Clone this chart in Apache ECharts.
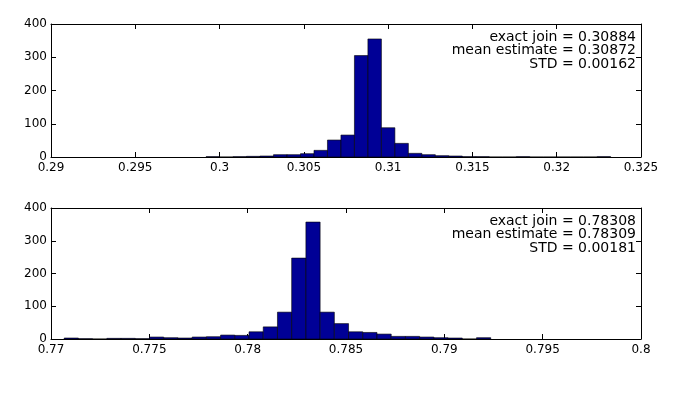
<!DOCTYPE html>
<html lang="en">
<head>
  <meta charset="UTF-8" />
  <title>Join estimate histograms</title>
  <script src="https://cdn.jsdelivr.net/npm/echarts@6/dist/echarts.min.js"></script>
  <style>
    html, body { margin: 0; padding: 0; background: #fff; }
  </style>
</head>
<body>
  <div id="main" style="width: 685px; height: 400px;"></div>
  <script type="text/javascript">
    // top histogram: 30 equal bins starting at topStart
    let topStart = 0.2992;
    let topWidth = 0.0008;
    let topCounts = [1, 0, 1, 2, 3, 7, 7, 10, 20, 51, 66, 305, 355, 88, 41,
                     11, 7, 4, 3, 1, 1, 0, 0, 1, 0, 0, 0, 0, 0, 1];
    let topTicks = { min: 0.29, max: 0.325, interval: 0.005 };
    let topText = ['exact join = 0.30884', 'mean estimate = 0.30872', 'STD = 0.00162'];

    // bottom histogram
    let botStart = 0.77067;
    let botWidth = 0.000723;
    let botCounts = [3, 1, 0, 2, 2, 1, 6, 4, 3, 6, 7, 12, 11, 22, 37, 82, 247,
                     357, 82, 47, 22, 20, 15, 8, 8, 6, 4, 3, 0, 4];
    let botTicks = { min: 0.77, max: 0.8, interval: 0.005 };
    let botText = ['exact join = 0.78308', 'mean estimate = 0.78309', 'STD = 0.00181'];

    let yTicks = { min: 0, max: 400, interval: 100 };

    let barColor = '#000096';
    let font = 'DejaVu Sans';

    function bins(start, width, counts) {
      return counts.map(function (c, k) {
        return [start + k * width, start + (k + 1) * width, c];
      });
    }

    function renderBar(params, api) {
      let p0 = api.coord([api.value(0), 0]);
      let p1 = api.coord([api.value(1), api.value(2)]);
      return {
        type: 'rect',
        shape: { x: p0[0], y: p1[1], width: p1[0] - p0[0], height: p0[1] - p1[1] },
        style: { fill: barColor, stroke: '#000', lineWidth: 0.6 }
      };
    }

    function xAxes(grid, t) {
      let common = {
        type: 'value', gridIndex: grid, min: t.min, max: t.max, interval: t.interval,
        splitLine: { show: false },
        axisLine: { show: true, onZero: false, lineStyle: { color: '#000', width: 1 } },
        axisTick: { show: true, inside: true, length: 5, lineStyle: { color: '#000' } }
      };
      return [
        Object.assign({}, common, {
          position: 'bottom',
          axisLabel: {
            show: true, margin: 5, color: '#000', fontFamily: font, fontSize: 12,
            formatter: function (v) { return String(+v.toFixed(4)); }
          }
        }),
        Object.assign({}, common, { position: 'top', axisLabel: { show: false } })
      ];
    }

    function yAxes(grid) {
      let common = {
        type: 'value', gridIndex: grid, min: yTicks.min, max: yTicks.max, interval: yTicks.interval,
        splitLine: { show: false },
        axisLine: { show: true, onZero: false, lineStyle: { color: '#000', width: 1 } },
        axisTick: { show: true, inside: true, length: 5, lineStyle: { color: '#000' } }
      };
      return [
        Object.assign({}, common, {
          position: 'left',
          axisLabel: { show: true, margin: 4, color: '#000', fontFamily: font, fontSize: 12 }
        }),
        Object.assign({}, common, { position: 'right', axisLabel: { show: false } })
      ];
    }

    function statText(lines, top) {
      return lines.map(function (s, i) {
        return {
          type: 'text', right: 49, top: top + i * 13.5,
          style: { text: s, fill: '#000', font: '14px "DejaVu Sans"', textAlign: 'right' }
        };
      });
    }

    var myChart = echarts.init(document.getElementById('main'), null, { renderer: 'canvas' });
    myChart.setOption({
      backgroundColor: '#fff',
      animation: false,
      grid: [
        { left: 51, right: 44, top: 24, height: 133 },
        { left: 51, right: 44, top: 208, height: 131 }
      ],
      xAxis: xAxes(0, topTicks).concat(xAxes(1, botTicks)),
      yAxis: yAxes(0).concat(yAxes(1)),
      series: [
        {
          type: 'custom', xAxisIndex: 0, yAxisIndex: 0,
          renderItem: renderBar, encode: { x: [0, 1], y: 2 },
          data: bins(topStart, topWidth, topCounts)
        },
        {
          type: 'custom', xAxisIndex: 2, yAxisIndex: 2,
          renderItem: renderBar, encode: { x: [0, 1], y: 2 },
          data: bins(botStart, botWidth, botCounts)
        }
      ],
      graphic: statText(topText, 30).concat(statText(botText, 214))
    });
  </script>
</body>
</html>
